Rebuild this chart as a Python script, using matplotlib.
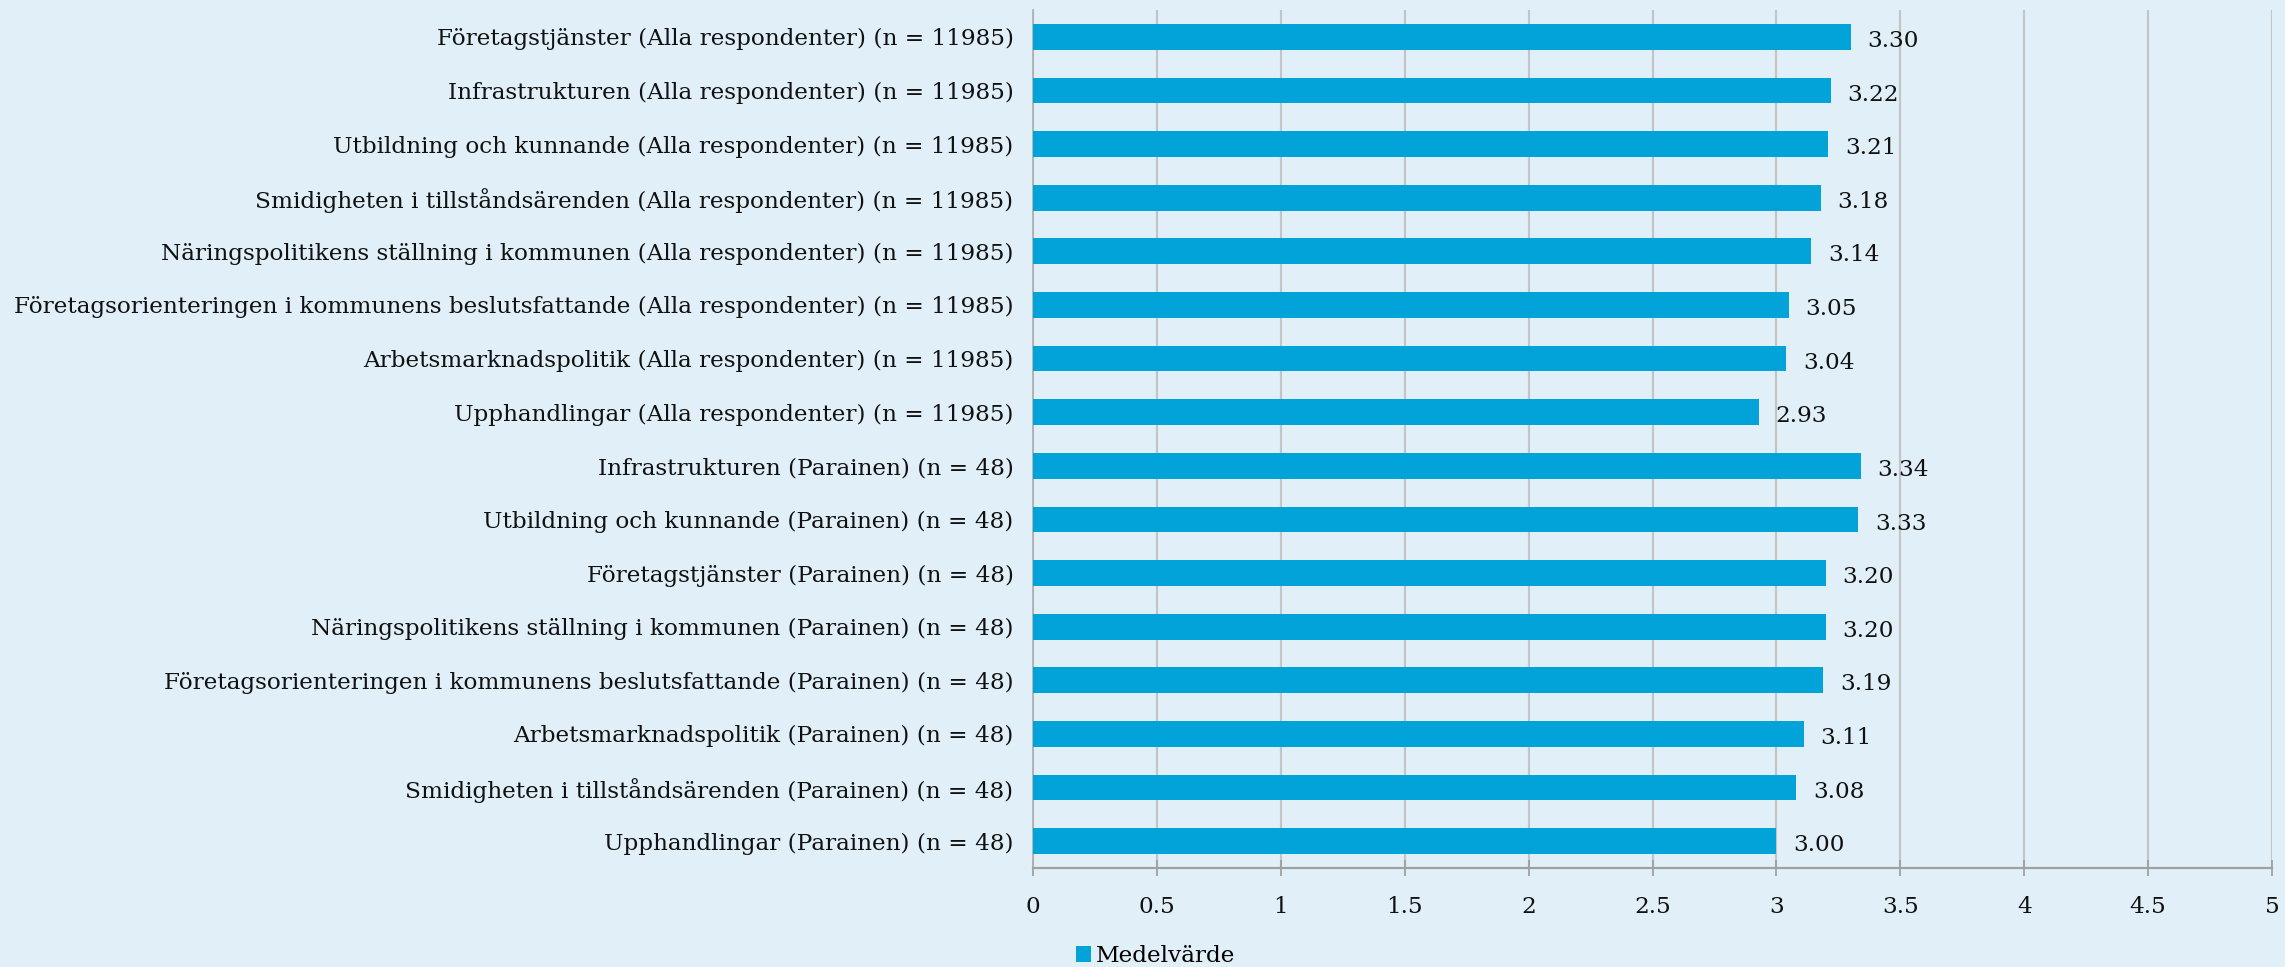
import matplotlib
matplotlib.use("Agg")
import matplotlib.pyplot as plt
from matplotlib.ticker import FixedLocator

categories = [
    "Företagstjänster (Alla respondenter) (n = 11985)",
    "Infrastrukturen (Alla respondenter) (n = 11985)",
    "Utbildning och kunnande (Alla respondenter) (n = 11985)",
    "Smidigheten i tillståndsärenden (Alla respondenter) (n = 11985)",
    "Näringspolitikens ställning i kommunen (Alla respondenter) (n = 11985)",
    "Företagsorienteringen i kommunens beslutsfattande (Alla respondenter) (n = 11985)",
    "Arbetsmarknadspolitik (Alla respondenter) (n = 11985)",
    "Upphandlingar (Alla respondenter) (n = 11985)",
    "Infrastrukturen (Parainen) (n = 48)",
    "Utbildning och kunnande (Parainen) (n = 48)",
    "Företagstjänster (Parainen) (n = 48)",
    "Näringspolitikens ställning i kommunen (Parainen) (n = 48)",
    "Företagsorienteringen i kommunens beslutsfattande (Parainen) (n = 48)",
    "Arbetsmarknadspolitik (Parainen) (n = 48)",
    "Smidigheten i tillståndsärenden (Parainen) (n = 48)",
    "Upphandlingar (Parainen) (n = 48)",
]
values = [3.30, 3.22, 3.21, 3.18, 3.14, 3.05, 3.04, 2.93,
          3.34, 3.33, 3.20, 3.20, 3.19, 3.11, 3.08, 3.00]
series_name = "Medelvärde"
xticks = [0, 0.5, 1, 1.5, 2, 2.5, 3, 3.5, 4, 4.5, 5]
xticklabels = ["0", "0.5", "1", "1.5", "2", "2.5", "3", "3.5", "4", "4.5", "5"]

BG = "#e1f0f8"
BAR = "#02a3d9"
FONT = ["DejaVu Serif", "Liberation Serif"]
FS = 16.65
plt.rcParams["font.family"] = FONT

fig = plt.figure(figsize=(22.85, 9.67), dpi=100, facecolor=BG)
ax = fig.add_axes([1033/2285, 1 - 868/967, (2272-1033)/2285, (868-10)/967])
ax.set_facecolor(BG)

ypos = list(range(len(categories)))
bars = ax.barh(ypos, values, height=0.48, color=BAR, label=series_name, zorder=3)
ax.set_ylim(len(categories) - 0.5, -0.5)
ax.set_xlim(0, 5)

ax.set_yticks(ypos)
ax.set_yticklabels(categories, fontsize=FS, color="#111111")
ax.tick_params(axis="y", length=0, pad=14)

ax.xaxis.set_major_locator(FixedLocator(xticks))
ax.set_xticklabels(xticklabels, fontsize=FS, color="#111111")
ax.tick_params(axis="x", direction="inout", length=12, width=1.3, color="#a0a0a0", pad=14)

ax.grid(axis="x", color="#c4c4c4", linewidth=1.6, zorder=0)
for s in ["top", "right"]:
    ax.spines[s].set_visible(False)
ax.spines["left"].set_color("#b0b0b0")
ax.spines["left"].set_linewidth(1.3)
ax.spines["bottom"].set_color("#a0a0a0")
ax.spines["bottom"].set_linewidth(1.6)

for b, v in zip(bars, values):
    ax.annotate(f"{v:.2f}", xy=(v, b.get_y() + b.get_height()/2),
                xytext=(12, -3), textcoords="offset points",
                ha="left", va="center", fontsize=FS, color="#111111", zorder=4)

fig.legend(handles=[bars], labels=[series_name], loc="center left",
           bbox_to_anchor=(1076/2285, 1 - 956/967), frameon=False,
           fontsize=FS, handlelength=0.65, handleheight=0.65,
           handletextpad=0.2, borderpad=0, borderaxespad=0)

fig.savefig("out.png", dpi=100, facecolor=BG)
